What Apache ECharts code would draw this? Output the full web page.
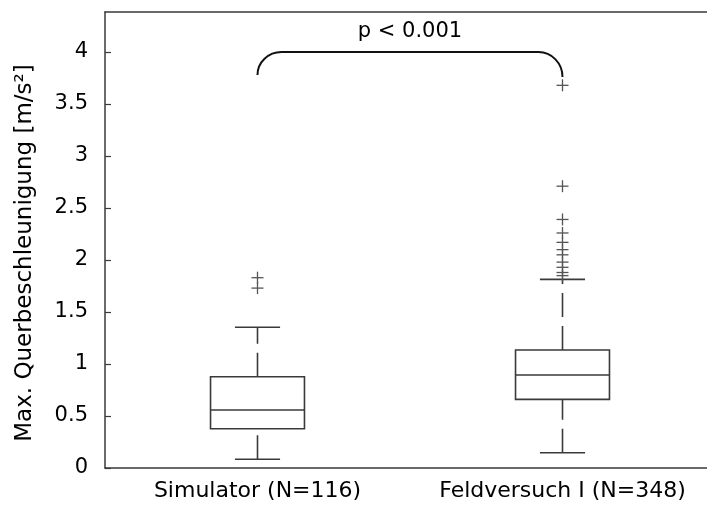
<!DOCTYPE html>
<html>
<head>
<meta charset="utf-8">
<script src="https://cdn.jsdelivr.net/npm/echarts@6/dist/echarts.min.js"></script>
<style>
  html, body { margin: 0; padding: 0; background: #fff; }
  #chart { width: 707px; height: 510px; }
</style>
</head>
<body>
<div id="chart"></div>
<script>
// Kategorien und Boxplot-Kennwerte [min, q1, median, q3, max]
var categories = ['Simulator (N=116)', 'Feldversuch I (N=348)'];
var boxSim = [0.084, 0.378, 0.558, 0.878, 1.353];
var boxFeld = [0.147, 0.66, 0.894, 1.135, 1.814];
// Ausreisser
var outSim = [1.83, 1.73];
var outFeld = [3.68, 2.71, 2.39, 2.26, 2.17, 2.10, 2.05, 1.98, 1.93, 1.88, 1.85];
// Signifikanzklammer: linkes Ende, Oberkante, rechtes Ende
var bracketVals = [3.78, 4.0, 3.76];
var bracketText = 'p < 0.001';
var yTicks = [0, 0.5, 1, 1.5, 2, 2.5, 3, 3.5, 4];

var FONT = 'DejaVu Sans';
var LINE = '#3a3a3a';

var boxData = [[0].concat(boxSim), [1].concat(boxFeld)];
var outData = [];
outSim.forEach(function (v) { outData.push([0, v]); });
outFeld.forEach(function (v) { outData.push([1, v]); });

function renderBox(params, api) {
  var idx = api.value(0);
  var x = api.coord([idx, 0])[0];
  var band = api.size([1, 0])[0];
  var bw = band * 0.308, cw = band * 0.148;
  var y = function (k) { return api.coord([idx, api.value(k)])[1]; };
  var yMin = y(1), yQ1 = y(2), yMed = y(3), yQ3 = y(4), yMax = y(5);
  var st = { stroke: LINE, lineWidth: 1.6, fill: null };
  var dash = { stroke: LINE, lineWidth: 1.6, lineDash: [24, 9] };
  return {
    type: 'group',
    children: [
      { type: 'rect', shape: { x: x - bw / 2, y: yQ3, width: bw, height: yQ1 - yQ3 }, style: st },
      { type: 'line', shape: { x1: x - bw / 2, y1: yMed, x2: x + bw / 2, y2: yMed }, style: st },
      { type: 'line', shape: { x1: x, y1: yQ3, x2: x, y2: yMax }, style: dash },
      { type: 'line', shape: { x1: x, y1: yMin, x2: x, y2: yQ1 }, style: dash },
      { type: 'line', shape: { x1: x - cw / 2, y1: yMax, x2: x + cw / 2, y2: yMax }, style: st },
      { type: 'line', shape: { x1: x - cw / 2, y1: yMin, x2: x + cw / 2, y2: yMin }, style: st }
    ]
  };
}

function renderPlus(params, api) {
  var p = api.coord([api.value(0), api.value(1)]);
  var h = 6;
  var st = { stroke: '#555', lineWidth: 1.3 };
  return {
    type: 'group',
    children: [
      { type: 'line', shape: { x1: p[0] - h, y1: p[1], x2: p[0] + h, y2: p[1] }, style: st },
      { type: 'line', shape: { x1: p[0], y1: p[1] - h, x2: p[0], y2: p[1] + h }, style: st }
    ]
  };
}

function renderBracket(params, api) {
  var xL = api.coord([0, 0])[0], xR = api.coord([1, 0])[0];
  var yL = api.coord([0, bracketVals[0]])[1];
  var yT = api.coord([0, bracketVals[1]])[1];
  var yR = api.coord([1, bracketVals[2]])[1];
  var r = 24, k = 0.552;
  var d = 'M' + xL + ',' + yL +
    ' C' + xL + ',' + (yL - k * (yL - yT)) + ' ' + (xL + r - k * r) + ',' + yT + ' ' + (xL + r) + ',' + yT +
    ' L' + (xR - r) + ',' + yT +
    ' C' + (xR - r + k * r) + ',' + yT + ' ' + xR + ',' + (yR - k * (yR - yT)) + ' ' + xR + ',' + yR;
  return {
    type: 'group',
    children: [
      { type: 'path', shape: { pathData: d }, style: { stroke: '#111', lineWidth: 2, fill: null } },
      { type: 'text', style: { x: (xL + xR) / 2, y: yT - 20, text: bracketText, fill: '#000',
        font: '21px "' + FONT + '"', align: 'center', verticalAlign: 'middle' } }
    ]
  };
}

var myChart = echarts.init(document.getElementById('chart'));
var option = {
  backgroundColor: '#fff',
  animation: false,
  grid: {
    left: 105, top: 12, width: 610, height: 456,
    outerBoundsMode: 'none', containLabel: false, show: false
  },
  xAxis: [{
    type: 'category',
    data: categories,
    boundaryGap: true,
    axisLine: { lineStyle: { color: LINE, width: 1.5 } },
    axisTick: { show: false },
    axisLabel: { fontFamily: FONT, fontSize: 22, color: '#000', margin: 12, interval: 0 },
    splitLine: { show: false }
  }, {
    // obere Rahmenlinie
    type: 'category',
    position: 'top',
    data: categories,
    axisLine: { lineStyle: { color: LINE, width: 1.5 } },
    axisTick: { show: false },
    axisLabel: { show: false },
    splitLine: { show: false }
  }],
  yAxis: {
    type: 'value',
    min: 0,
    max: 4.385,
    interval: 0.5,
    name: 'Max. Querbeschleunigung [m/s²]',
    nameLocation: 'middle',
    nameGap: 68,
    nameTextStyle: { fontFamily: FONT, fontSize: 23, color: '#000', padding: [0, 26, 0, 0] },
    axisLine: { show: true, lineStyle: { color: LINE, width: 1.5 } },
    axisTick: { show: true, inside: true, length: 6, lineStyle: { color: LINE, width: 1.2 } },
    axisLabel: {
      fontFamily: FONT, fontSize: 21, color: '#000', margin: 17, showMaxLabel: false,
      formatter: function (v) { return yTicks.indexOf(v) >= 0 ? String(v) : ''; }
    },
    splitLine: { show: false }
  },
  series: [
    { type: 'custom', data: boxData, renderItem: renderBox, encode: { x: 0, y: [1, 2, 3, 4, 5] }, z: 3 },
    { type: 'custom', data: outData, renderItem: renderPlus, encode: { x: 0, y: 1 }, z: 4 },
    { type: 'custom', data: [[0, bracketVals[1]]], renderItem: renderBracket, encode: { x: 0, y: 1 }, z: 5, clip: false }
  ]
};
myChart.setOption(option);
</script>
</body>
</html>
